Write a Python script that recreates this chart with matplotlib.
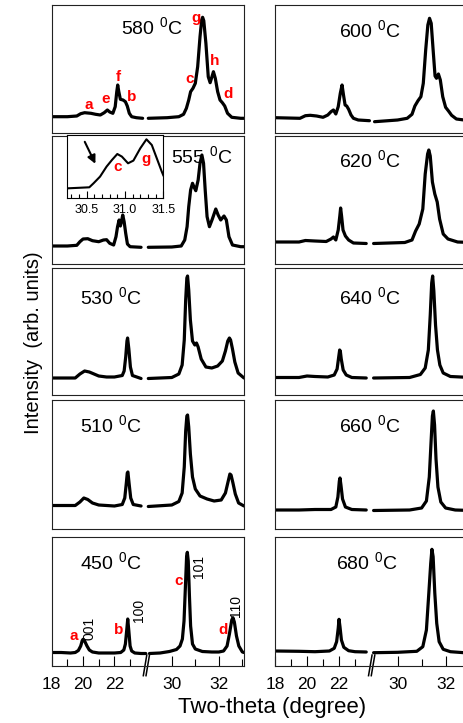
import numpy as np
import matplotlib
matplotlib.use('Agg')
import matplotlib.pyplot as plt

plt.rcParams['font.family'] = ['Liberation Sans', 'DejaVu Sans']
plt.rcParams['mathtext.default'] = 'regular'

nan = np.nan

# two-theta (degree) vs intensity (arb. units); nan = axis break between segments
x_580 = [18.0, 19.0, 19.6, 19.85, 20.1, 20.5, 20.8, 21.1, 21.35, 21.55, 21.7, 21.9, 22.05, 22.15, 22.21,
         22.28, 22.38, 22.55, 22.7, 22.82, 22.95, 23.1, 23.4, 23.8, 26.0,
         29.0, 29.8, 30.3, 30.5, 30.62, 30.72, 30.8, 30.9, 31.0, 31.1, 31.2, 31.27, 31.31, 31.36, 31.45,
         31.55, 31.63, 31.7, 31.77, 31.85, 31.95, 32.05, 32.15, 32.25, 32.37, 32.55, 32.93, 33.07]
y_580 = [16.3, 16.3, 17, 19.3, 20.3, 19.7, 18.7, 18, 20.3, 23, 21, 19.7, 26.3, 41.3, 48,
         41.3, 33.7, 33, 31.3, 27, 19.7, 16.3, 15.3, 14.7, nan,
         14.7, 15.3, 16.3, 18.7, 24.7, 33, 41.3, 44.7, 49.7, 66.3, 96.3, 113, 115.7, 112.3, 89.7,
         56.3, 50.3, 55.7, 61.3, 54.7, 41.3, 33, 30.3, 27, 19.7, 15.7, 14.7, 14.7]

x_555 = [18.0, 19.0, 19.6, 19.8, 20.0, 20.3, 20.6, 21.0, 21.3, 21.5, 21.7, 21.95, 22.1, 22.2, 22.3,
         22.38, 22.45, 22.53, 22.62, 22.72, 22.83, 23.0, 23.7, 26.0,
         29.0, 30.0, 30.4, 30.55, 30.65, 30.72, 30.8, 30.88, 30.95, 31.02, 31.12, 31.2, 31.28, 31.35,
         31.42, 31.5, 31.6, 31.72, 31.87, 31.97, 32.08, 32.22, 32.32, 32.43, 32.58, 32.93, 33.07]
y_555 = [18, 18, 18.7, 22.3, 25, 25.3, 23.3, 22.3, 24, 24.3, 20.7, 19, 27.3, 37.3, 44,
         38, 42.3, 49, 42.3, 30.7, 20, 17.3, 16.7, nan,
         16.7, 17, 18, 24, 37.3, 57.3, 74, 80.7, 76.7, 73.3, 84, 100.7, 109, 100.7,
         74, 47.3, 37.3, 44.7, 55, 49, 44, 48, 44, 27.3, 19, 17.3, 17.3]

x_555_in = [30.26, 30.4, 30.535, 30.59, 30.675, 30.76, 30.83, 30.9, 30.96, 31.04, 31.11, 31.2, 31.28,
            31.35, 31.415, 31.48, 31.5]
y_555_in = [10, 10.5, 11, 15, 21.7, 31.7, 38.3, 44.3, 41.7, 35, 37.7, 50, 59, 53.3, 40, 26.7, 23]

x_530 = [18.0, 19.5, 19.8, 20.1, 20.4, 20.7, 21.0, 21.5, 22.0, 22.5, 22.62, 22.72, 22.8, 22.84, 22.92,
         23.02, 23.15, 23.7, 26.0,
         29.0, 30.0, 30.3, 30.44, 30.53, 30.59, 30.64, 30.67, 30.72, 30.79, 30.88, 30.98, 31.05, 31.12,
         31.25, 31.45, 31.7, 31.95, 32.15, 32.28, 32.38, 32.45, 32.5, 32.58, 32.68, 32.82, 33.07]
y_530 = [17, 17, 21, 24, 23, 21, 19, 18, 18, 19.5, 24, 38, 54, 57, 46,
         28, 19.5, 16.5, nan,
         16.5, 17.5, 21, 30, 55, 95, 117, 119, 105, 75, 54, 50, 52, 48,
         36, 28, 27, 29, 34, 44, 54, 57, 55, 46, 33, 22, 17]

x_510 = [18.0, 19.5, 19.8, 20.05, 20.3, 20.6, 21.0, 22.0, 22.5, 22.66, 22.76, 22.82, 22.86, 22.94, 23.04,
         23.2, 23.7, 26.0,
         29.0, 30.0, 30.3, 30.44, 30.53, 30.59, 30.64, 30.67, 30.72, 30.79, 30.88, 31.0, 31.2, 31.5, 31.8,
         32.1, 32.28, 32.4, 32.47, 32.52, 32.6, 32.7, 32.84, 33.07]
y_510 = [23.5, 23.5, 27, 31, 29.5, 26, 24, 23, 24.5, 31, 46, 56, 57, 45, 31,
         24.5, 23, nan,
         22.5, 24, 27.5, 36, 62, 98, 113, 114, 102, 75, 52, 40, 33, 30, 28,
         29, 36, 48, 55, 54, 46, 35, 26, 23]

x_450 = [18.0, 18.6, 19.2, 19.5, 19.7, 19.85, 19.95, 20.0, 20.1, 20.25, 20.4, 20.6, 21.0, 21.5, 22.0,
         22.4, 22.6, 22.7, 22.78, 22.85, 22.92, 23.0, 23.1, 23.3, 23.7, 24.0, 26.0,
         29.05, 29.5, 29.9, 30.2, 30.35, 30.45, 30.52, 30.58, 30.63, 30.66, 30.7, 30.75, 30.8, 30.88,
         31.0, 31.3, 31.7, 32.0, 32.2, 32.35, 32.45, 32.55, 32.6, 32.66, 32.75, 32.85, 33.0, 33.07]
y_450 = [13.5, 13.5, 13, 13.5, 15.5, 20, 25.5, 26.7, 25, 20, 16, 14, 13, 13, 13,
         13.5, 16, 22, 35, 47, 35, 20, 15, 13, 12.5, 12.5, nan,
         12.5, 13, 14.5, 16.5, 20, 27, 45, 80, 110, 113.7, 105, 70, 40, 22,
         17, 14.5, 14, 14, 15, 20, 32, 46, 48.3, 44, 30, 20, 14, 13.5]

x_600 = [18.0, 19.56, 19.9, 20.2, 20.6, 21.0, 21.3, 21.5, 21.65, 21.8, 21.95, 22.08, 22.19, 22.28, 22.38,
         22.48, 22.6, 22.75, 22.9, 23.2, 23.9, 26.0,
         29.04, 30.0, 30.4, 30.6, 30.72, 30.85, 30.97, 31.07, 31.17, 31.26, 31.33, 31.4, 31.48, 31.56,
         31.62, 31.7, 31.78, 31.88, 32.0, 32.12, 32.25, 32.45, 32.77, 33.07]
y_600 = [15.3, 14.7, 17.3, 17.7, 17, 15.7, 18, 21.3, 23, 19, 26.3, 39.7, 48, 38, 28,
         27, 23.7, 18, 14.7, 13, 12.3, nan,
         11.3, 13, 14.7, 18.7, 27, 32.3, 36.3, 49.7, 83, 108, 114.7, 109.7, 83, 57,
         54.7, 59, 53, 36.3, 25.7, 22, 17.7, 14, 13, 13]

x_620 = [18.0, 19.5, 19.9, 20.5, 21.2, 21.5, 21.65, 21.8, 21.95, 22.05, 22.1, 22.16, 22.25, 22.4, 22.6,
         22.9, 23.7, 26.0,
         29.0, 30.3, 30.6, 30.75, 30.9, 31.05, 31.15, 31.25, 31.3, 31.36, 31.45, 31.55, 31.65, 31.75,
         31.9, 32.1, 32.5, 33.07]
y_620 = [22, 22, 23.5, 23, 22.5, 25, 27, 24, 34, 48, 56, 48, 34, 28, 24,
         21, 20.5, nan,
         20.5, 21.5, 24, 33, 40, 55, 90, 110, 114, 108, 82, 70, 62, 45,
         30, 25, 22, 21.5]

x_640 = [18.0, 19.5, 20.0, 20.5, 21.3, 21.7, 21.88, 21.98, 22.04, 22.08, 22.14, 22.26, 22.45, 22.8, 23.7,
         26.0,
         29.0, 30.5, 30.95, 31.15, 31.28, 31.36, 31.42, 31.46, 31.51, 31.58, 31.66, 31.76, 31.9, 32.2, 33.07]
y_640 = [17.5, 17.5, 19, 18.5, 18, 20, 26, 38, 45, 44, 36, 25, 20, 17.5, 17,
         nan,
         17, 17.5, 20.5, 27, 45, 80, 112, 119, 104, 70, 45, 30, 22, 18.5, 17.5]

x_660 = [18.0, 19.5, 20.5, 21.5, 21.8, 21.93, 22.02, 22.06, 22.12, 22.22, 22.4, 22.8, 23.7, 26.0,
         29.0, 30.5, 31.0, 31.2, 31.32, 31.4, 31.45, 31.49, 31.54, 31.6, 31.68, 31.8, 32.0, 32.4, 33.07]
y_660 = [19, 19, 19.5, 19.5, 22, 32, 48, 51, 44, 30, 22, 19.5, 19, nan,
         18.5, 19, 21, 28, 52, 90, 113, 118, 104, 70, 42, 27, 21, 19, 18.5]

x_680 = [18.0, 19.5, 20.5, 21.4, 21.7, 21.85, 21.95, 22.0, 22.06, 22.15, 22.3, 22.6, 23.0, 23.7, 26.0,
         29.0, 30.0, 30.8, 31.05, 31.2, 31.3, 31.38, 31.43, 31.48, 31.55, 31.63, 31.73, 31.9, 32.2,
         32.77, 33.07]
y_680 = [15, 14.7, 14.3, 15, 17.7, 24.3, 37.7, 46.7, 39.3, 26, 18.7, 15.3, 14.3, 14, nan,
         13.3, 13.7, 14.7, 19.3, 36, 72.7, 102.7, 116.7, 109.3, 72.7, 42.7, 24.3, 16.7, 14.3,
         13.3, 13.3]

labels_left = ['580', '555', '530', '510', '450']
labels_right = ['600', '620', '640', '660', '680']
major_ticks = [18, 20, 22, 30, 32]
minor_ticks = [19, 21, 23, 31, 33]

# broken two-theta axis: 18-24 then 29-33 with wider spacing
XB = [-100, 24.0, 28.95, 100]
UB = [-118, 6.0, 6.085, 112.66]


def fwd(x):
    return np.interp(x, XB, UB)


def inv(u):
    return np.interp(u, UB, XB)


W, H = 463, 723
fig = plt.figure(figsize=(W / 100, H / 100), dpi=100)

rows = [(5, 133), (136, 264), (268, 395), (400, 529), (537, 666)]
cols = [(51.7, 192.3), (275, 196.3)]

data_left = [(x_580, y_580), (x_555, y_555), (x_530, y_530), (x_510, y_510), (x_450, y_450)]
data_right = [(x_600, y_600), (x_620, y_620), (x_640, y_640), (x_660, y_660), (x_680, y_680)]
lab_pos_left = [(0.519, 0.828), (0.782, 0.844), (0.308, 0.77), (0.308, 0.806), (0.308, 0.806)]
lab_pos_right = [(0.484, 0.805), (0.484, 0.81), (0.484, 0.77), (0.484, 0.806), (0.467, 0.806)]

axes = {}
for c, (x0, w) in enumerate(cols):
    data = data_left if c == 0 else data_right
    labs = labels_left if c == 0 else labels_right
    lpos = lab_pos_left if c == 0 else lab_pos_right
    for r, (top, bot) in enumerate(rows):
        ax = fig.add_axes([x0 / W, 1 - bot / H, w / W, (bot - top) / H])
        ax.set_xscale('function', functions=(fwd, inv))
        xs, ys = data[r]
        ax.plot(xs, ys, color='k', lw=2.3, solid_joinstyle='round', solid_capstyle='round')
        ax.set_xlim(18, 33.07)
        ax.set_ylim(0, bot - top)
        ax.set_yticks([])
        for s in ax.spines.values():
            s.set_linewidth(0.8)
            s.set_color('#222222')
        ax.text(lpos[r][0], lpos[r][1], labs[r] + ' $^0$C', transform=ax.transAxes,
                fontsize=14, ha='center', va='center')
        if r == 4:
            ax.set_xticks(major_ticks)
            ax.set_xticks(minor_ticks, minor=True)
            ax.set_xticklabels([str(t) for t in major_ticks])
            ax.tick_params(axis='x', which='major', direction='in', length=7, width=0.8,
                           labelsize=12.5, pad=8)
            ax.tick_params(axis='x', which='minor', direction='in', length=5, width=0.8)
            f = 6.04 / 12.265
            for d in (-0.007, 0.007):
                ax.plot([f + d - 0.009, f + d + 0.009], [-0.075, 0.085], transform=ax.transAxes,
                        color='k', lw=1.1, clip_on=False)
        else:
            ax.set_xticks([])
            ax.set_xticks([], minor=True)
        axes[(r, c)] = ax

# peak letters, 580 panel
ax = axes[(0, 0)]
for t, x, y in [('a', 20.38, 28), ('e', 21.45, 33.7), ('f', 22.25, 55.7), ('b', 23.1, 35.7),
                ('c', 30.76, 53.7), ('g', 31.03, 114.7), ('h', 31.83, 72), ('d', 32.39, 38.7)]:
    ax.text(x, y, t, color='red', fontsize=11, fontweight='bold', ha='center', va='center')

# peak letters and hkl, 450 panel
ax = axes[(4, 0)]
for t, x, y in [('a', 19.38, 30.3), ('b', 22.25, 36), ('c', 30.3, 85.3), ('d', 32.18, 36)]:
    ax.text(x, y, t, color='red', fontsize=11, fontweight='bold', ha='center', va='center')
for t, x, y in [('001', 20.44, 38), ('100', 23.59, 56), ('101', 31.17, 99.3), ('110', 32.72, 60)]:
    ax.text(x, y, t, fontsize=10, rotation=90, ha='center', va='center')

# inset in the 555 panel
axi = fig.add_axes([66.7 / W, 1 - 198.3 / H, 96.6 / W, 63.3 / H])
axi.plot(x_555_in, y_555_in, color='k', lw=1.5)
axi.set_xlim(30.24, 31.5)
axi.set_ylim(0, 63.3)
axi.set_yticks([])
axi.set_xticks([30.5, 31.0, 31.5])
axi.set_xticklabels(['30.5', '31.0', '31.5'])
axi.set_xticks(np.arange(30.3, 31.55, 0.1), minor=True)
axi.tick_params(axis='x', which='major', direction='in', length=5, width=0.8, labelsize=9, pad=4)
axi.tick_params(axis='x', which='minor', direction='in', length=3, width=0.8)
for s in axi.spines.values():
    s.set_linewidth(0.8)
axi.text(30.9, 31, 'c', color='red', fontsize=11, fontweight='bold', ha='center', va='center')
axi.text(31.28, 39, 'g', color='red', fontsize=11, fontweight='bold', ha='center', va='center')
axi.annotate('', xy=(30.63, 32), xytext=(30.46, 59),
             arrowprops=dict(arrowstyle='-|>', color='k', lw=1.5, mutation_scale=12))

fig.text(272 / W, 1 - 708 / H, 'Two-theta (degree)', fontsize=16, ha='center', va='center')
fig.text(34 / W, 1 - 342.5 / H, 'Intensity  (arb. units)', fontsize=14.5, rotation=90,
         ha='center', va='center')

fig.savefig('out.png', dpi=100)
